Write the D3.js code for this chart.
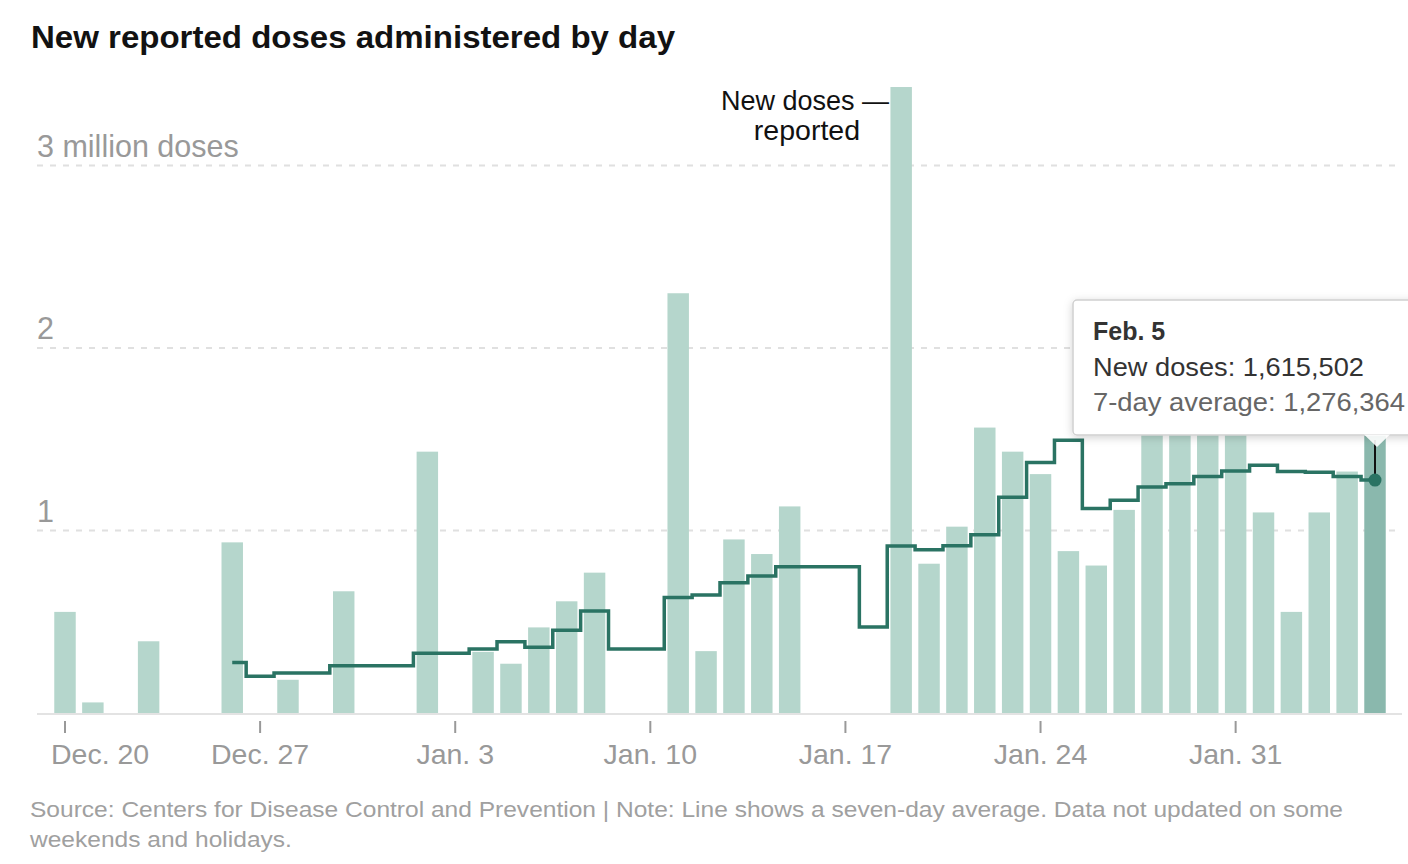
<!DOCTYPE html>
<html>
<head>
<meta charset="utf-8">
<script src="https://cdn.jsdelivr.net/npm/d3@7"></script>
<style>
  html, body { margin: 0; padding: 0; background: #fff; }
  svg { display: block; }
  text { font-family: "Liberation Sans", Arial, sans-serif; }
</style>
</head>
<body>
<svg id="chart" width="1408" height="864"></svg>
<script>
// ---- Data ----
const dates = [
  "Dec. 20","Dec. 21","Dec. 22","Dec. 23","Dec. 24","Dec. 25","Dec. 26","Dec. 27","Dec. 28","Dec. 29","Dec. 30","Dec. 31",
  "Jan. 1","Jan. 2","Jan. 3","Jan. 4","Jan. 5","Jan. 6","Jan. 7","Jan. 8","Jan. 9","Jan. 10",
  "Jan. 11","Jan. 12","Jan. 13","Jan. 14","Jan. 15","Jan. 16","Jan. 17","Jan. 18","Jan. 19","Jan. 20",
  "Jan. 21","Jan. 22","Jan. 23","Jan. 24","Jan. 25","Jan. 26","Jan. 27","Jan. 28","Jan. 29","Jan. 30","Jan. 31",
  "Feb. 1","Feb. 2","Feb. 3","Feb. 4","Feb. 5"
];
// new doses reported (millions); null = not reported
const newDoses = [
  0.554, 0.058, null, 0.393, null, null, 0.935, null, 0.182, null, 0.667, null,
  null, 1.432, null, 0.335, 0.270, 0.469, 0.612, 0.769, null, null,
  2.300, 0.339, 0.951, 0.871, 1.132, null, null, null, 3.430, 0.818,
  1.021, 1.564, 1.432, 1.309, 0.887, 0.808, 1.113, 1.550, 1.720, 1.710, 1.560,
  1.099, 0.554, 1.099, 1.323, 1.615502
];
// 7-day average (millions)
const sevenDayAvg = [
  null, null, null, null, null, null, 0.277, 0.201, 0.219, 0.219, 0.259, 0.259,
  0.259, 0.328, 0.328, 0.351, 0.390, 0.360, 0.453, 0.559, 0.351, 0.351,
  0.633, 0.647, 0.714, 0.751, 0.801, 0.801, 0.801, 0.471, 0.915, 0.894,
  0.917, 0.977, 1.182, 1.372, 1.494, 1.120, 1.166, 1.238, 1.256, 1.296, 1.326,
  1.358, 1.323, 1.319, 1.296, 1.276364
];
const xTickLabels = ["Dec. 20","Dec. 27","Jan. 3","Jan. 10","Jan. 17","Jan. 24","Jan. 31"];
const yTickValues = [1, 2, 3];
const yTickLabels = ["1", "2", "3 million doses"];
const title = "New reported doses administered by day";
const sourceLines = [
  "Source: Centers for Disease Control and Prevention | Note: Line shows a seven-day average. Data not updated on some",
  "weekends and holidays."
];
const tooltipTitle = "Feb. 5";
const tooltipLines = ["New doses: 1,615,502", "7-day average: 1,276,364"];

// ---- Layout ----
const svg = d3.select("#chart");
const step = (1375 - 65) / (dates.length - 1);
const x = d3.scaleBand()
  .domain(dates)
  .range([65 - step / 2, 1375 + step / 2])
  .paddingInner(0.23)
  .paddingOuter(0.115);
const y = d3.scaleLinear().domain([0, 3]).range([713, 165.5]);
const cx = d => x(d) + x.bandwidth() / 2;

// defs: shadow
const defs = svg.append("defs");
const f = defs.append("filter").attr("id", "shadow").attr("x", "-20%").attr("y", "-30%").attr("width", "140%").attr("height", "160%");
f.append("feDropShadow").attr("dx", 0).attr("dy", 2).attr("stdDeviation", 4).attr("flood-color", "#000").attr("flood-opacity", 0.18);

// Title
svg.append("text")
  .attr("x", 31).attr("y", 48)
  .attr("font-family", "'Liberation Sans Narrow', 'DejaVu Sans Condensed', sans-serif")
  .attr("font-weight", "bold")
  .attr("font-size", 31)
  .attr("fill", "#121212")
  .attr("textLength", 644)
  .attr("lengthAdjust", "spacingAndGlyphs")
  .text(title);

// Gridlines
svg.append("g").selectAll("line")
  .data(yTickValues)
  .join("line")
  .attr("x1", 37).attr("x2", 1396)
  .attr("y1", d => y(d)).attr("y2", d => y(d))
  .attr("stroke", "#e0e0e0")
  .attr("stroke-width", 2)
  .attr("stroke-dasharray", "6,7");

// Y labels
svg.append("g").selectAll("text")
  .data(yTickValues)
  .join("text")
  .attr("x", 37)
  .attr("y", d => y(d) - 9)
  .attr("font-size", 30.5)
  .attr("fill", "#999")
  .text((d, i) => yTickLabels[i]);

// Bars
const barData = dates.map((d, i) => ({ date: d, v: newDoses[i], i })).filter(d => d.v != null);
svg.append("g").selectAll("rect")
  .data(barData)
  .join("rect")
  .attr("x", d => x(d.date))
  .attr("width", x.bandwidth())
  .attr("y", d => y(d.v))
  .attr("height", d => y(0) - y(d.v))
  .attr("fill", d => d.i === dates.length - 1 ? "#8ab8ad" : "#b5d6cc");

// Baseline
svg.append("line")
  .attr("x1", 37).attr("x2", 1402)
  .attr("y1", y(0) + 1).attr("y2", y(0) + 1)
  .attr("stroke", "#e3e3e3").attr("stroke-width", 2);

// X axis
const xAxis = d3.axisBottom(x)
  .tickValues(xTickLabels)
  .tickSize(12)
  .tickPadding(11)
  .tickFormat(d => d);
const gx = svg.append("g").attr("transform", `translate(0,${y(0) + 8})`).call(xAxis);
gx.select(".domain").remove();
gx.selectAll(".tick line").attr("stroke", "#999").attr("stroke-width", 2);
gx.selectAll(".tick text")
  .attr("font-family", "'Liberation Sans', Arial, sans-serif")
  .attr("font-size", 28.5)
  .attr("fill", "#999")
  .each(function (d) {
    // keep labels inside the left edge of the chart
    const w = this.getComputedTextLength();
    const left = cx(d) - w / 2;
    if (left < 51) d3.select(this).attr("x", 51 - left);
  });

// Average line
const avgData = dates.map((d, i) => ({ date: d, v: sevenDayAvg[i] })).filter(d => d.v != null);
const line = d3.line()
  .x(d => cx(d.date))
  .y(d => y(d.v))
  .curve(d3.curveStep);
svg.append("path")
  .datum(avgData)
  .attr("d", line)
  .attr("fill", "none")
  .attr("stroke", "#2a7363")
  .attr("stroke-width", 3.5)
  .attr("stroke-linejoin", "miter");

// Annotation
const ann = svg.append("g").attr("fill", "#111");
ann.append("text").attr("x", 889).attr("y", 110).attr("text-anchor", "end").attr("font-size", 27).text("New doses —");
ann.append("text").attr("x", 860).attr("y", 140).attr("text-anchor", "end").attr("font-size", 28.5).text("reported");

// Tooltip
const last = dates[dates.length - 1];
const lx = cx(last);
const ly = y(sevenDayAvg[sevenDayAvg.length - 1]);
svg.append("line")
  .attr("x1", lx).attr("x2", lx)
  .attr("y1", 440).attr("y2", ly)
  .attr("stroke", "#111").attr("stroke-width", 2);
svg.append("circle")
  .attr("cx", lx).attr("cy", ly).attr("r", 6.5)
  .attr("fill", "#2a7363");

const tip = svg.append("g");
tip.append("rect")
  .attr("x", 1073).attr("y", 300)
  .attr("width", 400).attr("height", 135)
  .attr("rx", 4)
  .attr("fill", "#fff")
  .attr("stroke", "#d0d0d0")
  .attr("stroke-width", 1.5)
  .attr("filter", "url(#shadow)");
tip.append("path")
  .attr("d", `M${lx - 11},434.5 L${lx + 2},447 L${lx + 15},434.5 Z`)
  .attr("fill", "#fff")
  .attr("fill-opacity", 0.9);
tip.append("text")
  .attr("x", 1093).attr("y", 340)
  .attr("font-size", 25).attr("font-weight", "bold").attr("fill", "#333")
  .text(tooltipTitle);
tip.append("text")
  .attr("x", 1093).attr("y", 376)
  .attr("font-size", 25).attr("fill", "#333")
  .attr("textLength", 271).attr("lengthAdjust", "spacingAndGlyphs")
  .text(tooltipLines[0]);
tip.append("text")
  .attr("x", 1093).attr("y", 411)
  .attr("font-size", 25).attr("fill", "#666")
  .attr("textLength", 312).attr("lengthAdjust", "spacingAndGlyphs")
  .text(tooltipLines[1]);

// Source
const src = svg.append("g").selectAll("text")
  .data(sourceLines)
  .join("text")
  .attr("x", 30)
  .attr("y", (d, i) => 817 + i * 30)
  .attr("font-size", 22)
  .attr("fill", "#a0a0a0")
  .attr("lengthAdjust", "spacingAndGlyphs")
  .text(d => d);
const srcNodes = src.nodes();
const ratio = 1313 / srcNodes[0].getComputedTextLength();
srcNodes.forEach(n => {
  d3.select(n).attr("textLength", n.getComputedTextLength() * ratio);
});
</script>
</body>
</html>
